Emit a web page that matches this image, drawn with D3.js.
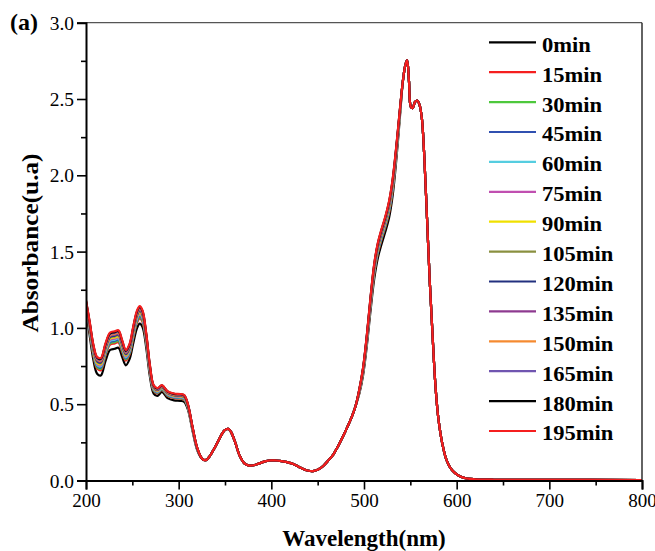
<!DOCTYPE html>
<html><head><meta charset="utf-8">
<script src="https://cdn.jsdelivr.net/npm/d3@7/dist/d3.min.js"></script>
<style>body{margin:0;background:#fff;} svg{display:block;}</style>
</head><body>
<svg id="chart" width="655" height="551"></svg>
<script>
// ---------- DATA ----------
const seriesLabels = ["0min","15min","30min","45min","60min","75min","90min","105min","120min","135min","150min","165min","180min","195min"];
const seriesColors = ["#000000","#f51f1f","#4dc83c","#3050b0","#55cde0","#c04fb0","#f0e000","#8a9040","#22307f","#8e3a90","#f58a30","#7055b0","#000000","#f51f1f"];
const xTickValues = [200,300,400,500,600,700,800];
const yTickValues = [0.0,0.5,1.0,1.5,2.0,2.5,3.0];

// wavelength segments (nm)
const uvWavelengths = [200,204,208,212,216,221,226,231,235,239,243,247,251,255,258,261,265,269,273,277,282,288,295,302,306,310,315,320];
const midWavelengths = [325,329,333,338,343,348,351,354,357,361,366,371,376,381,387,393,399,405,411,417,423,429,435,440,445,450,456,462,467,472,477,482,487,491];
const visWavelengths = [495,499,503,507,511,515,519,523,527,531,535,539];
const tailWavelengths = [542,544.5,546.5,548.5,550.5,552.5,555,557.5,560,562.5,565,568,571,574,577,580,583,586,589,593,598,604,611,620,640,700,800];

// segments where all spectra coincide
const midAbsorbance = [0.145,0.133,0.155,0.205,0.262,0.318,0.335,0.338,0.312,0.25,0.16,0.112,0.098,0.10,0.112,0.125,0.132,0.131,0.127,0.12,0.11,0.092,0.074,0.064,0.062,0.07,0.095,0.135,0.172,0.225,0.285,0.35,0.42,0.49];
const tailAbsorbance = [2.62,2.72,2.755,2.62,2.45,2.44,2.48,2.49,2.46,2.37,2.13,1.72,1.30,0.95,0.63,0.42,0.29,0.20,0.135,0.085,0.05,0.026,0.013,0.008,0.005,0.004,0.003];

// UV segment, per series
const uv0min   = [1.13,0.95,0.79,0.70,0.688,0.783,0.855,0.863,0.87,0.81,0.755,0.795,0.90,0.998,1.028,1.005,0.87,0.68,0.57,0.555,0.58,0.54,0.525,0.522,0.515,0.465,0.325,0.20];
const uv15min  = [1.145,0.977,0.82,0.733,0.723,0.818,0.89,0.898,0.905,0.843,0.785,0.825,0.933,1.033,1.063,1.038,0.899,0.703,0.587,0.57,0.594,0.554,0.539,0.536,0.529,0.476,0.333,0.205];
const uv30min  = [1.149,0.984,0.828,0.742,0.732,0.827,0.899,0.907,0.914,0.852,0.793,0.833,0.942,1.042,1.072,1.047,0.906,0.709,0.591,0.574,0.597,0.557,0.542,0.539,0.532,0.478,0.335,0.206];
const uv45min  = [1.153,0.991,0.835,0.75,0.74,0.835,0.907,0.915,0.922,0.86,0.80,0.84,0.95,1.05,1.08,1.055,0.913,0.714,0.595,0.578,0.60,0.56,0.545,0.542,0.535,0.481,0.336,0.207];
const uv60min  = [1.156,0.997,0.842,0.757,0.748,0.843,0.915,0.923,0.93,0.867,0.807,0.847,0.957,1.058,1.088,1.062,0.919,0.719,0.599,0.581,0.603,0.563,0.548,0.545,0.538,0.483,0.338,0.208];
const uv75min  = [1.159,1.002,0.848,0.764,0.755,0.85,0.922,0.93,0.937,0.874,0.813,0.853,0.964,1.065,1.095,1.069,0.925,0.724,0.602,0.584,0.606,0.566,0.551,0.548,0.541,0.485,0.34,0.209];
const uv90min  = [1.162,1.008,0.854,0.77,0.762,0.857,0.929,0.937,0.944,0.88,0.819,0.859,0.97,1.072,1.102,1.075,0.931,0.728,0.605,0.587,0.609,0.569,0.554,0.551,0.544,0.487,0.341,0.21];
const uv105min = [1.165,1.013,0.86,0.777,0.769,0.864,0.936,0.944,0.951,0.887,0.825,0.865,0.977,1.079,1.109,1.082,0.937,0.733,0.609,0.59,0.612,0.572,0.557,0.554,0.547,0.49,0.343,0.211];
const uv120min = [1.168,1.018,0.865,0.783,0.774,0.869,0.941,0.949,0.956,0.893,0.83,0.87,0.983,1.084,1.114,1.088,0.941,0.736,0.611,0.593,0.614,0.574,0.559,0.556,0.549,0.491,0.344,0.211];
const uv135min = [1.17,1.022,0.87,0.788,0.78,0.875,0.947,0.955,0.962,0.898,0.835,0.875,0.988,1.09,1.12,1.093,0.946,0.74,0.614,0.595,0.616,0.576,0.561,0.558,0.551,0.493,0.345,0.212];
const uv150min = [1.173,1.027,0.875,0.794,0.786,0.881,0.953,0.961,0.968,0.904,0.84,0.88,0.994,1.096,1.126,1.099,0.951,0.744,0.617,0.598,0.618,0.578,0.563,0.56,0.553,0.495,0.346,0.213];
const uv165min = [1.175,1.031,0.88,0.799,0.792,0.887,0.959,0.967,0.974,0.909,0.845,0.885,0.999,1.102,1.132,1.104,0.956,0.748,0.62,0.60,0.621,0.581,0.566,0.563,0.556,0.497,0.348,0.214];
const uv180min = [1.178,1.036,0.885,0.805,0.797,0.892,0.964,0.972,0.979,0.915,0.85,0.89,1.005,1.107,1.137,1.11,0.96,0.751,0.622,0.603,0.623,0.583,0.568,0.565,0.558,0.498,0.349,0.214];
const uv195min = [1.18,1.04,0.89,0.81,0.803,0.898,0.97,0.978,0.985,0.92,0.855,0.895,1.01,1.113,1.143,1.115,0.965,0.755,0.625,0.605,0.625,0.585,0.57,0.567,0.56,0.50,0.35,0.215];

// visible rising-edge segment, per series
const vis0min   = [0.57,0.69,0.88,1.11,1.32,1.46,1.55,1.63,1.72,1.87,2.11,2.40];
const vis15min  = [0.579,0.705,0.901,1.137,1.35,1.49,1.58,1.66,1.753,1.903,2.137,2.415];
const vis30min  = [0.581,0.709,0.907,1.144,1.358,1.498,1.588,1.668,1.762,1.912,2.144,2.419];
const vis45min  = [0.584,0.713,0.912,1.151,1.365,1.505,1.595,1.675,1.77,1.92,2.151,2.423];
const vis60min  = [0.586,0.716,0.916,1.157,1.372,1.512,1.602,1.682,1.777,1.927,2.157,2.426];
const vis75min  = [0.587,0.719,0.921,1.162,1.378,1.518,1.608,1.688,1.784,1.934,2.162,2.429];
const vis90min  = [0.589,0.722,0.925,1.168,1.384,1.524,1.614,1.694,1.79,1.94,2.168,2.432];
const vis105min = [0.591,0.725,0.929,1.173,1.39,1.53,1.62,1.70,1.797,1.947,2.173,2.435];
const vis120min = [0.593,0.728,0.933,1.178,1.395,1.535,1.625,1.705,1.803,1.953,2.178,2.438];
const vis135min = [0.594,0.73,0.936,1.182,1.40,1.54,1.63,1.71,1.808,1.958,2.182,2.44];
const vis150min = [0.596,0.733,0.94,1.187,1.405,1.545,1.635,1.715,1.814,1.964,2.187,2.443];
const vis165min = [0.597,0.735,0.943,1.191,1.41,1.55,1.64,1.72,1.819,1.969,2.191,2.445];
const vis180min = [0.599,0.738,0.947,1.196,1.415,1.555,1.645,1.725,1.825,1.975,2.196,2.448];
const vis195min = [0.60,0.74,0.95,1.20,1.42,1.56,1.65,1.73,1.83,1.98,2.20,2.45];

const uvBySeries = [uv0min,uv15min,uv30min,uv45min,uv60min,uv75min,uv90min,uv105min,uv120min,uv135min,uv150min,uv165min,uv180min,uv195min];
const visBySeries = [vis0min,vis15min,vis30min,vis45min,vis60min,vis75min,vis90min,vis105min,vis120min,vis135min,vis150min,vis165min,vis180min,vis195min];

// ---------- CHART ----------
const svg = d3.select("#chart");
const FONT = "'Liberation Serif','Times New Roman',serif";
const x = d3.scaleLinear().domain([200,800]).range([86,642]);
const y = d3.scaleLinear().domain([0,3]).range([480.5,22.7]);

const wavelengths = uvWavelengths.concat(midWavelengths, visWavelengths, tailWavelengths);
const series = seriesLabels.map((name,i) => {
  const vals = uvBySeries[i].concat(midAbsorbance, visBySeries[i], tailAbsorbance);
  return { name, color: seriesColors[i], points: wavelengths.map((w,j) => [w, vals[j]]) };
});

svg.append("defs").append("clipPath").attr("id","plotclip")
  .append("rect").attr("x",86).attr("y",22.7).attr("width",556).attr("height",457.8);

const line = d3.line().x(d=>x(d[0])).y(d=>y(d[1])).curve(d3.curveCatmullRom.alpha(0.5));

const gLines = svg.append("g").attr("clip-path","url(#plotclip)");
series.forEach(s => {
  gLines.append("path").attr("d", line(s.points))
    .attr("fill","none").attr("stroke", s.color).attr("stroke-width", 2.2)
    .attr("stroke-linejoin","round");
});

// frame top/right
svg.append("line").attr("x1",86).attr("x2",642).attr("y1",22.7).attr("y2",22.7).attr("stroke","#555").attr("stroke-width",1.3);
svg.append("line").attr("x1",642).attr("x2",642).attr("y1",22.7).attr("y2",480.5).attr("stroke","#222").attr("stroke-width",1.4);

// x axis
const xAxis = svg.append("g").attr("transform","translate(0,480.5)")
  .call(d3.axisBottom(x).tickValues(xTickValues).tickSize(9).tickPadding(4).tickFormat(d3.format("d")));
const xMinor = svg.append("g").attr("transform","translate(0,480.5)")
  .call(d3.axisBottom(x).tickValues([250,350,450,550,650,750]).tickSize(5).tickFormat(""));
xMinor.select(".domain").remove();
// y axis
const yAxis = svg.append("g").attr("transform","translate(86,0)")
  .call(d3.axisLeft(y).tickValues(yTickValues).tickSize(9).tickPadding(5).tickFormat(d3.format(".1f")));
const yMinor = svg.append("g").attr("transform","translate(86,0)")
  .call(d3.axisLeft(y).tickValues([0.25,0.75,1.25,1.75,2.25,2.75]).tickSize(5).tickFormat(""));
yMinor.select(".domain").remove();

[xAxis,yAxis,xMinor,yMinor].forEach(g => {
  g.selectAll("line").attr("stroke","#000").attr("stroke-width",1.6);
  g.select(".domain").attr("stroke","#000").attr("stroke-width",2);
});
xAxis.selectAll("text").attr("font-family",FONT).attr("font-size",18).attr("fill","#000")
  .attr("y",0).attr("dy",0).attr("transform","translate(0,26) scale(1.06,1)");
yAxis.selectAll("text").attr("font-family",FONT).attr("font-size",18).attr("fill","#000")
  .attr("x",0).attr("dy",0).attr("transform","translate(-12,6.5) scale(1.08,1)");

// axis titles
svg.append("text").attr("x",364).attr("y",546).attr("text-anchor","middle")
  .attr("font-family",FONT).attr("font-weight","bold").attr("font-size",23).text("Wavelength(nm)");
svg.append("text").attr("transform","translate(38,243) rotate(-90) scale(1.1,1)").attr("text-anchor","middle")
  .attr("font-family",FONT).attr("font-weight","bold").attr("font-size",23).text("Absorbance(u.a)");
// panel label
svg.append("text").attr("x",10).attr("y",30).attr("font-family",FONT).attr("font-weight","bold")
  .attr("font-size",24).text("(a)");

// legend
const leg = svg.append("g");
series.forEach((s,i) => {
  const ly = 42.3 + i*29.9;
  leg.append("line").attr("x1",489).attr("x2",536).attr("y1",ly).attr("y2",ly)
    .attr("stroke",s.color).attr("stroke-width",2.2);
  leg.append("text").attr("transform",`translate(542,${ly+9.4}) scale(1.1,1)`)
    .attr("font-family",FONT).attr("font-weight","bold").attr("font-size",20.5).text(s.name);
});
</script>
</body></html>
